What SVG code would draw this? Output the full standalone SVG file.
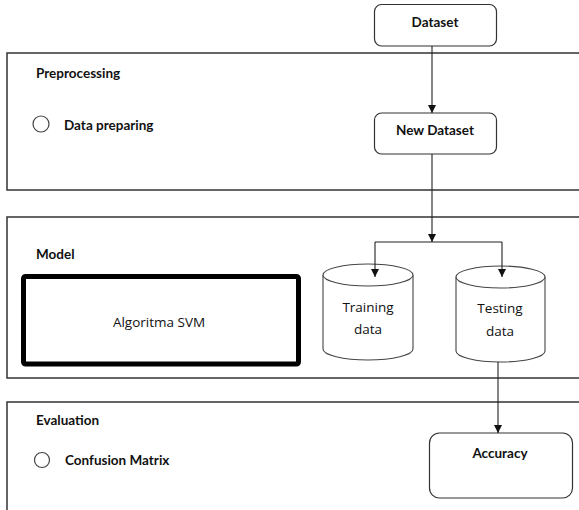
<svg xmlns="http://www.w3.org/2000/svg" width="579" height="510" viewBox="0 0 579 510">
<style>
.lane{fill:none;stroke:#333;stroke-width:1.5}
.box{fill:#fff;stroke:#333;stroke-width:1.2}
.cyl{fill:#fff;stroke:#444;stroke-width:1.1}
.lbl{font-family:Lato,"Open Sans","Liberation Sans",sans-serif;font-weight:bold;font-size:13.5px;fill:#111}
.txt{font-family:"Open Sans","Liberation Sans",sans-serif;font-size:13.5px;fill:#111}
.conn{fill:none;stroke:#222;stroke-width:1.1}
.dot{fill:#fff;stroke:#444;stroke-width:1.2}
</style>
<defs>
<marker id="arr" markerWidth="8" markerHeight="10" refX="8" refY="5" orient="auto" markerUnits="userSpaceOnUse">
<path d="M0,1 L8,5 L0,9 Z" fill="#111"/>
</marker>
</defs>
<rect width="579" height="510" fill="#fff"/>
<g id="lane-preprocessing">
<rect class="lane" x="7" y="53" width="590" height="137"/>
<text class="lbl" x="36" y="78">Preprocessing</text>
<circle class="dot" cx="41" cy="124" r="8"/>
<text class="lbl" x="64" y="130">Data preparing</text>
</g>
<g id="lane-model">
<rect class="lane" x="7" y="217" width="590" height="161"/>
<text class="lbl" x="36" y="259">Model</text>
</g>
<g id="lane-evaluation">
<rect class="lane" x="7" y="402" width="590" height="120"/>
<text class="lbl" x="36" y="425">Evaluation</text>
<circle class="dot" cx="42" cy="460" r="7.5"/>
<text class="lbl" x="65" y="465">Confusion Matrix</text>
</g>
<g id="node-dataset">
<rect class="box" x="374.5" y="4.5" width="122" height="41.5" rx="7"/>
<text class="lbl" x="435" y="27" text-anchor="middle">Dataset</text>
</g>
<g id="node-new-dataset">
<rect class="box" x="374.5" y="113" width="122" height="41" rx="7"/>
<text class="lbl" x="435" y="135" text-anchor="middle">New Dataset</text>
</g>
<g id="node-svm">
<rect x="23.5" y="276.5" width="275" height="87.5" rx="2" fill="#fff" stroke="#000" stroke-width="5"/>
<text class="txt" x="159" y="327" text-anchor="middle">Algoritma SVM</text>
</g>
<g id="node-training">
<path class="cyl" d="M323,275 V349 A45,11 0 0 0 413,349 V275"/>
<ellipse class="cyl" cx="368" cy="275" rx="45" ry="11"/>
<text class="txt" x="368" y="312" text-anchor="middle">Training</text>
<text class="txt" x="368" y="334" text-anchor="middle">data</text>
</g>
<g id="node-testing">
<path class="cyl" d="M456,277 V351 A44.5,11 0 0 0 545,351 V277"/>
<ellipse class="cyl" cx="500.5" cy="277" rx="44.5" ry="11"/>
<text class="txt" x="500" y="313" text-anchor="middle">Testing</text>
<text class="txt" x="500" y="336" text-anchor="middle">data</text>
</g>
<g id="node-accuracy">
<rect class="box" x="429.5" y="433" width="143" height="65" rx="10"/>
<text class="lbl" x="500" y="458" text-anchor="middle">Accuracy</text>
</g>
<g id="connectors">
<path class="conn" d="M432,46 V113" marker-end="url(#arr)"/>
<path class="conn" d="M432,154 V242" marker-end="url(#arr)"/>
<path class="conn" d="M375,242 H502"/>
<path class="conn" d="M375,242 V277" marker-end="url(#arr)"/>
<path class="conn" d="M502,242 V277" marker-end="url(#arr)"/>
<path class="conn" d="M498,362 V433" marker-end="url(#arr)"/>
</g>
</svg>
